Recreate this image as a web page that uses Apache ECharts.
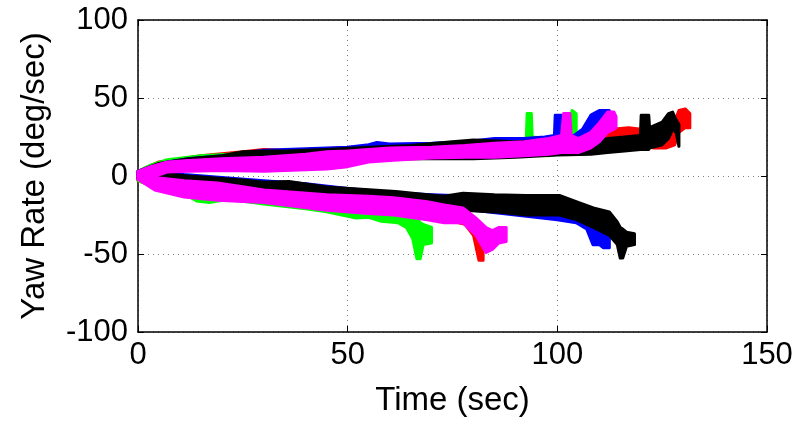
<!DOCTYPE html>
<html><head><meta charset="utf-8">
<script src="https://cdn.jsdelivr.net/npm/echarts@6/dist/echarts.min.js"></script>
<style>html,body{margin:0;padding:0;background:#fff}#c{width:806px;height:423px}</style>
</head><body><div id="c"></div>
<script>
// Each trace: [time (sec), lower edge, upper edge] of the noisy yaw-rate band (deg/sec)
const xTickValues = [0, 50, 100, 150];
const yTickValues = [-100, -50, 0, 50, 100];

const redUp = [[0,-1,3],[5,2,9],[15,6,13],[25,8,15.5],[30,8,17],[35,9,16.5],[45,9,17.5],[55,10,19],[65,11,20],[75,12,21],[85,13,22],[95,14,23],[105,14,24],[110,16,26],[113,20,30],[117,22,31],[120,20,30],[123,18,30],[126,18,31],[128,20,35],[129,28,42],[130.5,31,43],[131.6,31,40]];
const redDown = [[0,-3,1],[5,-8,-2],[15,-13,-5],[25,-16,-8],[35,-18,-10],[45,-20,-12],[55,-23,-14],[65,-26,-16],[69,-27,-17],[75,-29,-19],[78,-31,-22],[80,-38,-26],[81.3,-54,-33],[82.3,-54,-36]];

const greenUp = [[0,-2,3],[3,1,7],[7,4,10.5],[15,7,13],[25,9,14.5],[35,10,16],[45,11,17],[55,12,18],[65,13,19.5],[75,14,21],[85,14.5,22],[90,15,23],[92.6,16,24],[92.8,16,40],[93.8,16,40],[94,15,25],[98,13,24],[100,14,25],[103.3,15,26],[103.5,20,42],[104.5,25,40]];
const greenDown = [[0,-3,1],[3,-6,-1],[7,-10,-4],[12,-13,-6],[14,-16,-8],[17,-17,-9],[19,-16,-9],[22,-15,-9],[30,-18,-10],[40,-21,-12],[45,-23,-13],[52,-27,-15],[55,-26.5,-15],[58,-29,-17],[62,-30,-20],[64,-33,-22],[65.5,-40,-24],[66.5,-53,-27],[67.3,-53,-30],[68,-44,-31],[70,-43,-33]];

const blueUp = [[0,-1,3],[3,1,6],[7,3,9],[12,6,11],[20,8,13],[30,9,16.5],[40,10,17.5],[50,11,18.5],[55,12,20],[57,13,21.5],[60,13,20.5],[70,14,21],[78,15,22],[85,16,24],[92,16,24],[97,17,25],[99.3,18,26],[99.5,18,39],[101,18,39],[101.2,18,26],[104,18,26],[106,20,30],[108,22,39],[110,28,42],[112.4,30,42]];
const blueDown = [[0,-2,3],[4,-2,3],[11,-3,1],[20,-6,-1],[30,-9,-3],[40,-11,-5],[50,-14,-8],[60,-17,-10.5],[70,-20,-12],[80,-22,-13],[90,-25,-15],[100,-28,-17],[104.5,-30,-20],[107,-34,-22],[108.5,-44,-27],[110,-44,-30],[111,-46,-32],[112.4,-46,-38]];

const blackUp = [[0,-1,3],[5,2,8],[12,5,11],[20,7,13],[25,8,15.5],[30,9,16],[35,9,16],[45,10,17],[55,11,18.5],[65,11,19.5],[75,11,22],[80,11,23],[90,12,22],[100,13.5,23],[108,14,22],[112,15,24],[116,16,25],[119.8,17,26],[120,17,39],[121.8,17,39],[122,18,31],[125,20,34.5],[126.5,24,40],[127.5,30,41],[128.3,28,36],[129,19,33]];
const blackDown = [[0,-2,2],[5,-2,2],[12,-4,0],[19,-7,-1.5],[25,-9,-2.5],[30,-10.5,-4],[36,-10,-3.5],[45,-13.5,-7],[56,-14,-9],[61.5,-15.5,-10],[69,-16,-12],[73,-18.5,-13],[77.5,-22,-11],[85,-23,-12],[92.6,-25,-12.5],[100.5,-25,-12.5],[104.5,-28,-16.5],[108.6,-33,-20.5],[112.4,-38,-23],[114.3,-44,-29.5],[115,-52.6,-33],[115.6,-52.6,-34],[116.5,-45,-36],[118.4,-44,-37]];

const magentaUp = [[0,-2,3],[3,-1,6],[7,2.5,9],[12,3,10],[20,3.5,11],[30,3,12],[40,4,14],[45,4.5,15.5],[50,6,16],[55,9,17],[60,10,18],[70,11.5,18.5],[78,12,19.5],[85,12,21],[92,13,22],[98,14,24],[101,15,26],[101.5,15,40],[103,15,40],[103.3,15,26],[105,15,24],[108,18,28],[110,22,34],[112,28,41],[113.5,30,41],[114,31,38]];
const magentaDown = [[0,-2,3],[4,-9,-1],[11,-13.5,-3],[19,-15.5,-4.5],[30,-17,-9],[45,-22,-12],[55,-24,-13],[61,-25,-14],[69,-28,-16.5],[73,-30,-18.5],[77.5,-30,-20.5],[80.6,-38,-27],[83,-49,-33],[84.5,-47,-35],[86,-43,-33],[87.8,-42,-33]];

const traces = [
  {color:'#ff0000', pts:redUp},{color:'#ff0000', pts:redDown},
  {color:'#00ff00', pts:greenUp},{color:'#00ff00', pts:greenDown},
  {color:'#0000ff', pts:blueUp},{color:'#0000ff', pts:blueDown},
  {color:'#000000', pts:blackUp},{color:'#000000', pts:blackDown},
  {color:'#ff00ff', pts:magentaUp},{color:'#ff00ff', pts:magentaDown}
];

const FONT = 'Liberation Sans, Arial, Helvetica, sans-serif';

function bandSeries(tr){
  return {
    type:'custom', silent:true, animation:false,
    data:[[tr.pts[0][0], tr.pts[0][1]]],
    renderItem:function(params, api){
      const top = tr.pts.map(p=>api.coord([p[0], p[2]]));
      const bot = tr.pts.slice().reverse().map(p=>api.coord([p[0], p[1]]));
      return {type:'polygon', shape:{points: top.concat(bot)},
        style:{fill:tr.color, stroke:tr.color, lineWidth:3, lineJoin:'round'}};
    }
  };
}

const axisLineStyle = {show:true, onZero:false, lineStyle:{color:'#000', width:1.5}};
const gridLine = {show:true, lineStyle:{color:'#808080', width:1, type:[1,4]}};

const chart = echarts.init(document.getElementById('c'), null, {renderer:'canvas'});
chart.setOption({
  animation:false,
  backgroundColor:'#ffffff',
  grid:{left:138, right:39, top:20, bottom:91, containLabel:false},
  xAxis:[
    {type:'value', min:xTickValues[0], max:xTickValues[xTickValues.length-1], interval:50, position:'bottom',
     axisLine:axisLineStyle, axisTick:{inside:true, length:6, lineStyle:{color:'#000'}},
     axisLabel:{fontSize:31, color:'#000', margin:8, fontFamily:FONT},
     splitLine:gridLine,
     name:'Time (sec)', nameLocation:'middle', nameGap:52,
     nameTextStyle:{fontSize:33, color:'#000', fontFamily:FONT}},
    {type:'value', min:0, max:150, interval:50, position:'top',
     axisLine:axisLineStyle, axisTick:{inside:true, length:6, lineStyle:{color:'#000'}},
     axisLabel:{show:false}, splitLine:{show:false}}
  ],
  yAxis:[
    {type:'value', min:yTickValues[0], max:yTickValues[yTickValues.length-1], interval:50, position:'left',
     axisLine:axisLineStyle, axisTick:{inside:true, length:6, lineStyle:{color:'#000'}},
     axisLabel:{fontSize:31, color:'#000', margin:10, fontFamily:FONT},
     splitLine:gridLine,
     name:'Yaw Rate (deg/sec)', nameLocation:'middle', nameGap:87,
     nameTextStyle:{fontSize:33, color:'#000', fontFamily:FONT}},
    {type:'value', min:-100, max:100, interval:50, position:'right',
     axisLine:axisLineStyle, axisTick:{inside:true, length:6, lineStyle:{color:'#000'}},
     axisLabel:{show:false}, splitLine:{show:false}}
  ],
  series: traces.map(bandSeries)
});
</script>
</body></html>
